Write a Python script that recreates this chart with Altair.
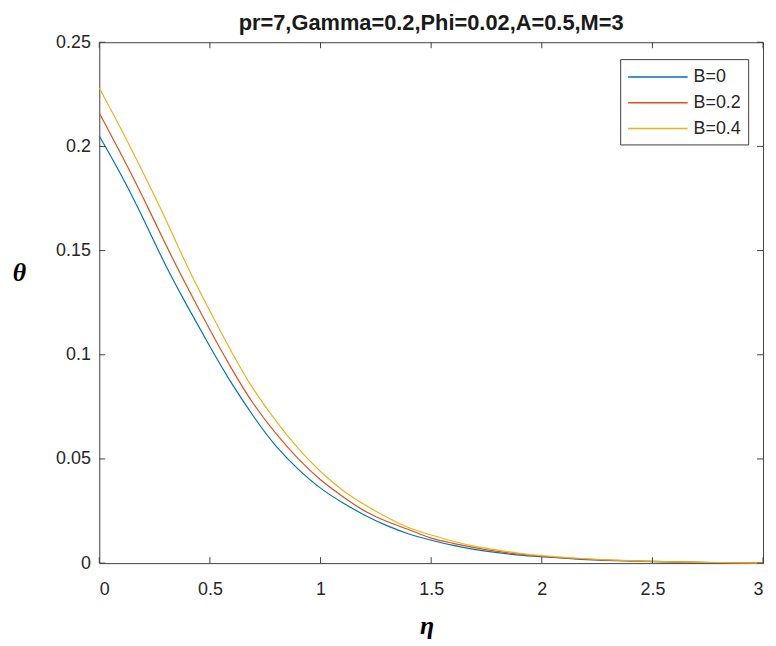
import altair as alt
import pandas as pd

eta = [0.0, 0.1, 0.2, 0.3, 0.4, 0.5, 0.6, 0.7, 0.8, 0.9, 1.0, 1.1, 1.2, 1.3,
       1.4, 1.5, 1.6, 1.7, 1.8, 1.9, 2.0, 2.2, 2.4, 2.6, 2.8, 3.0]

theta_B0 = [0.205, 0.186, 0.165, 0.143, 0.123, 0.104, 0.086, 0.070, 0.056, 0.045,
            0.036, 0.029, 0.023, 0.018, 0.014, 0.011, 0.0085, 0.0065, 0.005, 0.0038,
            0.003, 0.0017, 0.001, 0.0005, 0.0002, 0.0]
theta_B02 = [0.216, 0.196, 0.175, 0.153, 0.132, 0.112, 0.093, 0.076, 0.062, 0.050,
             0.040, 0.032, 0.025, 0.020, 0.016, 0.012, 0.0095, 0.0073, 0.0056, 0.0043,
             0.0033, 0.0019, 0.0011, 0.0006, 0.00025, 0.0]
theta_B04 = [0.228, 0.208, 0.187, 0.165, 0.142, 0.121, 0.101, 0.083, 0.068, 0.055,
             0.044, 0.035, 0.028, 0.022, 0.017, 0.0135, 0.0105, 0.008, 0.0062, 0.0047,
             0.0036, 0.0021, 0.0012, 0.0006, 0.0003, 0.0]

series_names = ["B=0", "B=0.2", "B=0.4"]
series_colors = ["#0072BD", "#D95319", "#EDB120"]

x_ticks = [0, 0.5, 1, 1.5, 2, 2.5, 3]
y_ticks = [0, 0.05, 0.1, 0.15, 0.2, 0.25]

rows = []
for name, vals in zip(series_names, [theta_B0, theta_B02, theta_B04]):
    for e, t in zip(eta, vals):
        rows.append({"eta": e, "theta": t, "B": name})
df = pd.DataFrame(rows)

xt = pd.DataFrame({"v": x_ticks})
yt = pd.DataFrame({"v": y_ticks})

W, H = 669, 525
AX = "#404040"
TXT = "#262626"

xscale = alt.Scale(domain=[0, 3], nice=False, zero=False)
yscale = alt.Scale(domain=[0, 0.25], nice=False, zero=False)

lines = alt.Chart(df).mark_line(strokeWidth=1.2, interpolate="natural").encode(
    x=alt.X("eta:Q", scale=xscale,
            axis=alt.Axis(values=x_ticks, format=".1~f", ticks=False, domain=False,
                          grid=False, labelPadding=18, title="η",
                          labelFont="Liberation Sans", labelFontSize=18, labelColor=TXT,
                          titleFont="Liberation Serif", titleFontStyle="italic",
                          titleFontWeight="bold", titleFontSize=26,
                          titleX=330, titleY=71, titleBaseline="alphabetic",
                          titleColor="#000000")),
    y=alt.Y("theta:Q", scale=yscale,
            axis=alt.Axis(values=y_ticks, format=".2~f", ticks=False, domain=False,
                          grid=False, labelPadding=9, title="θ", titleAngle=0,
                          labelFont="Liberation Sans", labelFontSize=18, labelColor=TXT,
                          titleFont="Liberation Serif", titleFontStyle="italic",
                          titleFontWeight="bold", titleFontSize=26,
                          titleX=-81, titleY=240, titleAlign="center",
                          titleBaseline="alphabetic", titleColor="#000000")),
    color=alt.Color("B:N", scale=alt.Scale(domain=series_names, range=series_colors),
                    legend=alt.Legend(title=None, orient="none", legendX=525, legendY=17,
                                      symbolType="M-1,0H5", symbolSize=400,
                                      symbolStrokeWidth=1.5, labelFontSize=18,
                                      labelFont="Liberation Sans", labelColor=TXT,
                                      labelOffset=45, padding=7, rowPadding=6,
                                      strokeColor=AX, fillColor="#ffffff")),
)

tick_bottom = alt.Chart(xt).mark_rule(color=AX, strokeWidth=1).encode(
    x=alt.X("v:Q", scale=xscale), y=alt.value(H), y2=alt.value(H - 6))
tick_top = alt.Chart(xt).mark_rule(color=AX, strokeWidth=1).encode(
    x=alt.X("v:Q", scale=xscale), y=alt.value(0), y2=alt.value(6))
tick_left = alt.Chart(yt).mark_rule(color=AX, strokeWidth=1).encode(
    y=alt.Y("v:Q", scale=yscale), x=alt.value(0), x2=alt.value(6))
tick_right = alt.Chart(yt).mark_rule(color=AX, strokeWidth=1).encode(
    y=alt.Y("v:Q", scale=yscale), x=alt.value(W), x2=alt.value(W - 6))

chart = alt.layer(lines, tick_bottom, tick_top, tick_left, tick_right).properties(
    width=W, height=H,
    autosize="none",
    background="#ffffff",
    padding={"left": 92, "top": 32, "right": 5, "bottom": 78},
    title=alt.Title("pr=7,Gamma=0.2,Phi=0.02,A=0.5,M=3", font="Liberation Sans",
                    fontSize=22, fontWeight="bold", color="#1a1a1a", anchor="middle",
                    frame="group", baseline="bottom", offset=-24),
).configure_view(stroke=AX, strokeWidth=1)

chart.save("out.html", embed_options={"renderer": "svg", "actions": False})
